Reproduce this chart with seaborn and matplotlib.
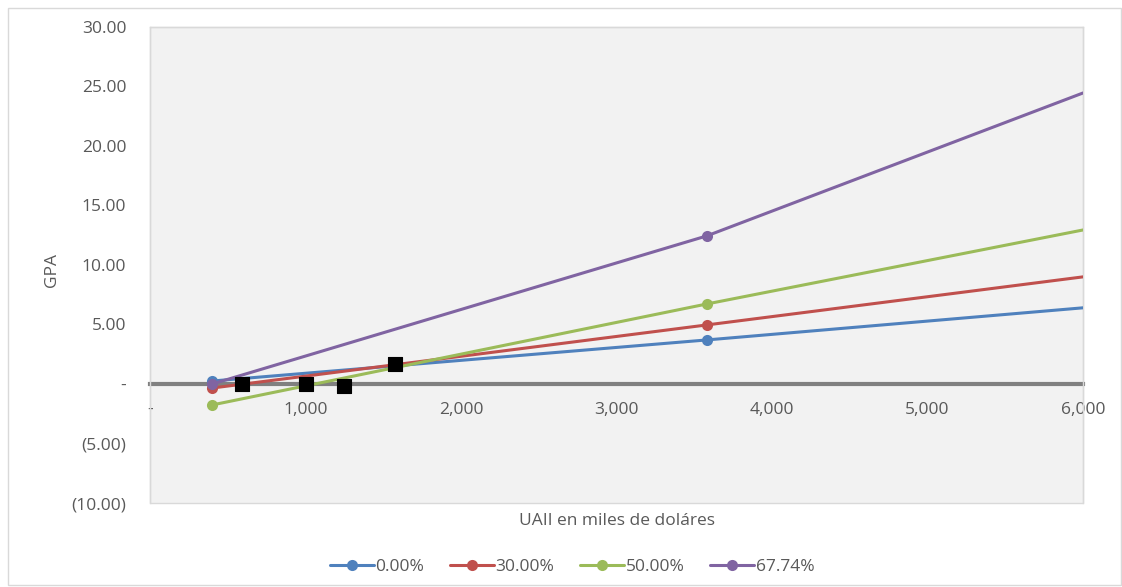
import pandas as pd
import seaborn as sns
import matplotlib.pyplot as plt
from matplotlib.ticker import FuncFormatter, MultipleLocator
from matplotlib.patches import Rectangle

# data
uaii = [400, 3580, 6000]
series_names = ['0.00%', '30.00%', '50.00%', '67.74%']
gpa_0 = [0.25, 3.70, 6.40]
gpa_30 = [-0.34, 4.96, 9.00]
gpa_50 = [-1.76, 6.72, 12.94]
gpa_6774 = [0.00, 12.44, 24.45]
colors = ['#4f81bd', '#c0504d', '#9bbb59', '#8064a2']

# indifference points (black squares)
pts_x = [594, 1006, 1245, 1574]
pts_y = [0.0, 0.0, -0.2, 1.7]

rows = []
for name, vals in zip(series_names, [gpa_0, gpa_30, gpa_50, gpa_6774]):
    for x, y in zip(uaii, vals):
        rows.append({'UAII': x, 'GPA': y, 'serie': name})
df = pd.DataFrame(rows)
pts = pd.DataFrame({'UAII': pts_x, 'GPA': pts_y})

sns.set_style('white')
plt.rcParams['font.family'] = ['Open Sans', 'DejaVu Sans']
txt = '#595959'

fig = plt.figure(figsize=(11.22, 5.87), dpi=100)
ax = fig.add_axes([0.1337, 0.1431, 0.8315, 0.811])
ax.set_facecolor('#f2f2f2')

for name, c in zip(series_names, colors):
    sns.lineplot(data=df[df['serie'] == name], x='UAII', y='GPA', color=c,
                 linewidth=2.2, marker='o', markersize=8, markeredgewidth=0,
                 markevery=[0, 1], label=name, ax=ax, zorder=3)

sns.scatterplot(data=pts, x='UAII', y='GPA', marker='s', s=100, color='black',
                edgecolor='black', ax=ax, zorder=5, legend=False)

ax.set_xlim(0, 6000)
ax.set_ylim(-10, 30)
ax.xaxis.set_major_locator(MultipleLocator(1000))
ax.yaxis.set_major_locator(MultipleLocator(5))

def yfmt(v, pos):
    if abs(v) < 1e-9:
        return '-'
    if v < 0:
        return '({:.2f})'.format(-v)
    return '{:.2f}'.format(v)

def xfmt(v, pos):
    if abs(v) < 1e-9:
        return '-'
    return '{:,.0f}'.format(v)

ax.yaxis.set_major_formatter(FuncFormatter(yfmt))
ax.xaxis.set_major_formatter(FuncFormatter(xfmt))

ax.spines['bottom'].set_position(('data', 0))
ax.spines['bottom'].set_color('#808080')
ax.spines['bottom'].set_linewidth(3)
ax.spines['bottom'].set_zorder(2)
for s in ['left', 'right', 'top']:
    ax.spines[s].set_color('#d9d9d9')
    ax.spines[s].set_linewidth(1)
ax.patch.set_edgecolor('#d9d9d9')
ax.patch.set_linewidth(1)

ax.tick_params(axis='both', length=0, labelsize=12.5, colors=txt)
ax.tick_params(axis='y', pad=17)
ax.tick_params(axis='x', pad=13)
ax.set_xlabel('')
ax.set_ylabel('')
fig.text(0.55, 0.113, 'UAII en miles de doláres', ha='center', va='center',
         fontsize=12.5, color=txt)
fig.text(0.046, 0.54, 'GPA', ha='center', va='center', rotation=90,
         fontsize=12.5, color=txt)

ax.legend(loc='center', ncol=4, frameon=False, fontsize=12.5, handlelength=2.5,
          handletextpad=0.1, columnspacing=1.5, labelcolor=txt)
ax.legend_.set_bbox_to_anchor((0.51, 0.034), transform=fig.transFigure)

fig.patches.append(Rectangle((0.007, 0.003), 0.992, 0.984, transform=fig.transFigure,
                             fill=False, edgecolor='#d9d9d9', linewidth=1))

fig.savefig('out.png', dpi=100)
